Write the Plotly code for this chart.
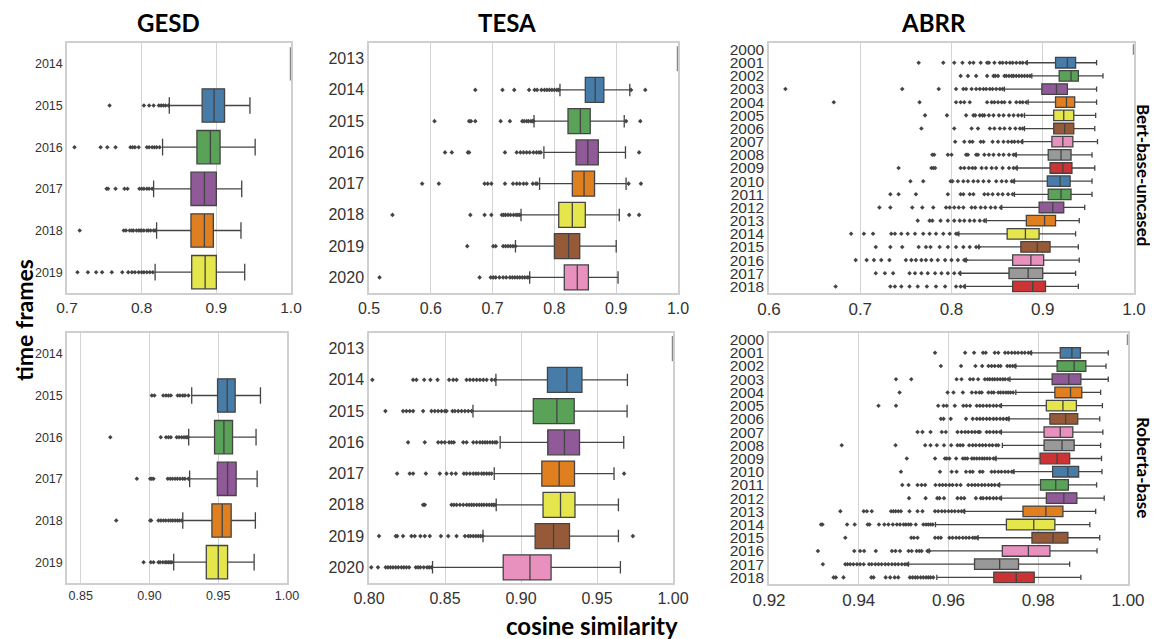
import plotly.graph_objects as go

# Seaborn Set1 palette (desaturated 0.75), cycled over time frames
PALETTE = ["#cb3335", "#477ca8", "#59a257", "#905998", "#df7f20",
           "#e5e54c", "#965a38", "#e890be", "#999999"]

# ---------------- GESD / Bert-base-uncased ----------------
gesd_bert_years = ["2014", "2015", "2016", "2017", "2018", "2019"]
gesd_bert_q1 = [1.0, 0.881, 0.874, 0.866, 0.866, 0.867]
gesd_bert_med = [1.0, 0.897, 0.892, 0.884, 0.884, 0.885]
gesd_bert_q3 = [1.0, 0.911, 0.905, 0.900, 0.896, 0.900]
gesd_bert_lo = [1.0, 0.837, 0.828, 0.816, 0.820, 0.818]
gesd_bert_hi = [1.0, 0.945, 0.952, 0.934, 0.933, 0.938]
gesd_bert_out = [
    [],
    [0.757, 0.803, 0.810, 0.816, 0.823, 0.826, 0.829, 0.832, 0.836],
    [0.710, 0.745, 0.754, 0.765, 0.785, 0.788, 0.791, 0.796, 0.807, 0.810, 0.814, 0.817, 0.820, 0.824],
    [0.753, 0.755, 0.765, 0.777, 0.781, 0.797, 0.800, 0.803, 0.807, 0.810, 0.814],
    [0.717, 0.776, 0.779, 0.784, 0.787, 0.789, 0.793, 0.796, 0.798, 0.800, 0.803, 0.807, 0.809, 0.812, 0.816, 0.818],
    [0.714, 0.728, 0.739, 0.747, 0.760, 0.774, 0.782, 0.787, 0.791, 0.796, 0.800, 0.803, 0.807, 0.811, 0.815],
]

# ---------------- TESA / Bert-base-uncased ----------------
tesa_bert_years = ["2013", "2014", "2015", "2016", "2017", "2018", "2019", "2020"]
tesa_bert_q1 = [1.0, 0.850, 0.822, 0.835, 0.829, 0.807, 0.800, 0.816]
tesa_bert_med = [1.0, 0.866, 0.842, 0.854, 0.848, 0.829, 0.823, 0.837]
tesa_bert_q3 = [1.0, 0.880, 0.858, 0.871, 0.865, 0.850, 0.841, 0.855]
tesa_bert_lo = [1.0, 0.809, 0.767, 0.783, 0.776, 0.746, 0.737, 0.760]
tesa_bert_hi = [1.0, 0.922, 0.913, 0.915, 0.916, 0.905, 0.900, 0.903]
tesa_bert_out = [
    [],
    [0.672, 0.716, 0.735, 0.759, 0.768, 0.772, 0.779, 0.784, 0.788, 0.792, 0.796, 0.800, 0.804, 0.807, 0.924, 0.947],
    [0.606, 0.662, 0.665, 0.672, 0.713, 0.728, 0.748, 0.751, 0.755, 0.758, 0.762, 0.765, 0.766, 0.916, 0.939],
    [0.623, 0.634, 0.660, 0.662, 0.720, 0.739, 0.745, 0.750, 0.755, 0.760, 0.766, 0.771, 0.775, 0.778, 0.937],
    [0.586, 0.613, 0.687, 0.692, 0.698, 0.720, 0.733, 0.739, 0.744, 0.750, 0.755, 0.765, 0.770, 0.772, 0.920, 0.940],
    [0.538, 0.664, 0.687, 0.698, 0.715, 0.718, 0.721, 0.725, 0.729, 0.734, 0.738, 0.741, 0.744, 0.921, 0.937],
    [0.659, 0.701, 0.705, 0.717, 0.721, 0.725, 0.729, 0.733, 0.737],
    [0.517, 0.679, 0.697, 0.701, 0.705, 0.711, 0.717, 0.722, 0.728, 0.732, 0.736, 0.740, 0.744, 0.748, 0.752, 0.756, 0.759],
]

# ---------------- ABRR / Bert-base-uncased ----------------
abrr_bert_years = [str(y) for y in range(2000, 2019)]
abrr_bert_q1 = [1.0, 0.914, 0.918, 0.899, 0.914, 0.912, 0.912, 0.910, 0.906, 0.908,
                0.905, 0.906, 0.896, 0.882, 0.861, 0.876, 0.867, 0.863, 0.867]
abrr_bert_med = [1.0, 0.927, 0.931, 0.915, 0.926, 0.923, 0.924, 0.922, 0.920, 0.922,
                 0.919, 0.920, 0.911, 0.902, 0.881, 0.894, 0.887, 0.884, 0.889]
abrr_bert_q3 = [1.0, 0.936, 0.939, 0.927, 0.935, 0.934, 0.934, 0.933, 0.931, 0.932,
                0.930, 0.931, 0.923, 0.914, 0.896, 0.908, 0.901, 0.900, 0.903]
abrr_bert_lo = [1.0, 0.883, 0.888, 0.858, 0.884, 0.880, 0.880, 0.878, 0.871, 0.872,
                0.869, 0.869, 0.855, 0.838, 0.808, 0.830, 0.816, 0.810, 0.815]
abrr_bert_hi = [1.0, 0.959, 0.966, 0.959, 0.959, 0.958, 0.957, 0.960, 0.954, 0.957,
                0.954, 0.954, 0.946, 0.940, 0.936, 0.939, 0.940, 0.936, 0.939]
abrr_bert_out = [
    [],
    [0.764, 0.791, 0.803, 0.812, 0.820, 0.824, 0.832, 0.839, 0.841, 0.847, 0.853, 0.856, 0.860, 0.864, 0.867, 0.871, 0.875, 0.878, 0.882],
    [0.810, 0.818, 0.827, 0.839, 0.846, 0.848, 0.851, 0.858, 0.860, 0.863, 0.866, 0.868, 0.871, 0.874, 0.877, 0.880, 0.883, 0.886],
    [0.618, 0.746, 0.786, 0.805, 0.813, 0.816, 0.822, 0.827, 0.831, 0.835, 0.838, 0.842, 0.845, 0.849, 0.853, 0.856],
    [0.671, 0.765, 0.805, 0.810, 0.814, 0.820, 0.839, 0.844, 0.847, 0.851, 0.855, 0.858, 0.864, 0.871, 0.875, 0.878, 0.882],
    [0.771, 0.795, 0.816, 0.824, 0.826, 0.831, 0.834, 0.836, 0.841, 0.846, 0.852, 0.857, 0.863, 0.868, 0.873, 0.877],
    [0.767, 0.803, 0.822, 0.829, 0.842, 0.847, 0.853, 0.858, 0.864, 0.870, 0.875, 0.878],
    [0.804, 0.814, 0.820, 0.823, 0.832, 0.835, 0.845, 0.851, 0.857, 0.862, 0.866, 0.869, 0.873, 0.877],
    [0.779, 0.781, 0.796, 0.800, 0.816, 0.818, 0.827, 0.829, 0.836, 0.841, 0.846, 0.852, 0.857, 0.863, 0.868, 0.870],
    [0.742, 0.778, 0.780, 0.782, 0.810, 0.814, 0.819, 0.823, 0.826, 0.833, 0.838, 0.844, 0.849, 0.856, 0.863, 0.868, 0.871],
    [0.755, 0.769, 0.799, 0.801, 0.807, 0.813, 0.818, 0.824, 0.829, 0.835, 0.841, 0.849, 0.855, 0.860, 0.866, 0.868],
    [0.733, 0.742, 0.761, 0.796, 0.810, 0.813, 0.820, 0.824, 0.836, 0.840, 0.845, 0.851, 0.856, 0.862, 0.867],
    [0.721, 0.733, 0.757, 0.768, 0.780, 0.794, 0.798, 0.803, 0.808, 0.813, 0.822, 0.826, 0.832, 0.837, 0.843, 0.848, 0.854],
    [0.763, 0.776, 0.779, 0.788, 0.796, 0.803, 0.809, 0.814, 0.820, 0.825, 0.831, 0.836],
    [0.690, 0.704, 0.714, 0.734, 0.738, 0.745, 0.752, 0.760, 0.769, 0.776, 0.783, 0.791, 0.798, 0.805, 0.807],
    [0.717, 0.733, 0.746, 0.764, 0.772, 0.777, 0.787, 0.796, 0.805, 0.813, 0.820, 0.827, 0.830],
    [0.695, 0.707, 0.715, 0.723, 0.732, 0.750, 0.756, 0.761, 0.767, 0.772, 0.778, 0.785, 0.793, 0.800, 0.807, 0.814, 0.816],
    [0.717, 0.727, 0.736, 0.754, 0.760, 0.767, 0.774, 0.782, 0.789, 0.796, 0.803, 0.809],
    [0.673, 0.733, 0.738, 0.745, 0.754, 0.763, 0.773, 0.783, 0.793, 0.805, 0.810, 0.814],
]

# ---------------- GESD / Roberta-base ----------------
gesd_rob_years = ["2014", "2015", "2016", "2017", "2018", "2019"]
gesd_rob_q1 = [None, 0.9495, 0.9473, 0.9493, 0.9454, 0.9413]
gesd_rob_med = [None, 0.9565, 0.9541, 0.9568, 0.9529, 0.9500]
gesd_rob_q3 = [None, 0.9623, 0.9604, 0.9630, 0.9594, 0.9568]
gesd_rob_lo = [None, 0.9307, 0.9285, 0.9292, 0.9242, 0.9176]
gesd_rob_hi = [None, 0.9807, 0.9775, 0.9783, 0.9770, 0.9761]
gesd_rob_out = [
    [],
    [0.9017, 0.9036, 0.9100, 0.9120, 0.9138, 0.9155, 0.9205, 0.9222, 0.9242, 0.9258, 0.9283],
    [0.8715, 0.9082, 0.9120, 0.9138, 0.9155, 0.9198, 0.9215, 0.9234, 0.9251, 0.9266, 0.9278],
    [0.8908, 0.9005, 0.9017, 0.9029, 0.9133, 0.9150, 0.9167, 0.9186, 0.9203, 0.9222, 0.9242, 0.9258, 0.9283],
    [0.8758, 0.9005, 0.9012, 0.9065, 0.9082, 0.9101, 0.9118, 0.9138, 0.9155, 0.9169, 0.9186, 0.9203, 0.9217, 0.9234],
    [0.8957, 0.9010, 0.9029, 0.9065, 0.9077, 0.9097, 0.9114, 0.9126, 0.9138, 0.9150, 0.9162],
]

# ---------------- TESA / Roberta-base ----------------
tesa_rob_years = ["2013", "2014", "2015", "2016", "2017", "2018", "2019", "2020"]
tesa_rob_q1 = [1.0, 0.9174, 0.9081, 0.9176, 0.9137, 0.9145, 0.9093, 0.8883]
tesa_rob_med = [1.0, 0.9302, 0.9236, 0.9286, 0.9251, 0.9260, 0.9214, 0.9059]
tesa_rob_q3 = [1.0, 0.9401, 0.9350, 0.9385, 0.9352, 0.9355, 0.9319, 0.9198]
tesa_rob_lo = [1.0, 0.8835, 0.8684, 0.8863, 0.8824, 0.8837, 0.8750, 0.8418]
tesa_rob_hi = [1.0, 0.9700, 0.9698, 0.9676, 0.9612, 0.9641, 0.9641, 0.9654]
tesa_rob_out = [
    [],
    [0.8022, 0.8290, 0.8312, 0.8363, 0.8404, 0.8451, 0.8527, 0.8554, 0.8576, 0.8642, 0.8664, 0.8686, 0.8708, 0.8730, 0.8752, 0.8774, 0.8807, 0.8829],
    [0.8108, 0.8224, 0.8246, 0.8268, 0.8290, 0.8356, 0.8411, 0.8433, 0.8455, 0.8477, 0.8499, 0.8510, 0.8549, 0.8565, 0.8587, 0.8609, 0.8631, 0.8653, 0.8675],
    [0.8257, 0.8367, 0.8455, 0.8477, 0.8499, 0.8527, 0.8543, 0.8558, 0.8620, 0.8642, 0.8686, 0.8708, 0.8730, 0.8747, 0.8763, 0.8778, 0.8796, 0.8813, 0.8829, 0.8840],
    [0.8185, 0.8268, 0.8290, 0.8374, 0.8466, 0.8510, 0.8543, 0.8571, 0.8624, 0.8642, 0.8664, 0.8686, 0.8703, 0.8719, 0.8741, 0.8756, 0.8774, 0.8791, 0.8807, 0.9678],
    [0.8356, 0.8367, 0.8543, 0.8558, 0.8576, 0.8598, 0.8620, 0.8642, 0.8659, 0.8675, 0.8690, 0.8708, 0.8725, 0.8741, 0.8756, 0.8774, 0.8791, 0.8807, 0.8818, 0.8829],
    [0.8066, 0.8176, 0.8185, 0.8224, 0.8279, 0.8301, 0.8338, 0.8367, 0.8400, 0.8473, 0.8521, 0.8576, 0.8631, 0.8653, 0.8668, 0.8686, 0.8703, 0.8719, 0.8734, 0.8747, 0.9736],
    [0.8015, 0.8059, 0.8110, 0.8125, 0.8141, 0.8158, 0.8176, 0.8193, 0.8213, 0.8229, 0.8246, 0.8264, 0.8308, 0.8323, 0.8338, 0.8360, 0.8382, 0.8396, 0.8411],
]

# ---------------- ABRR / Roberta-base ----------------
abrr_rob_years = [str(y) for y in range(2000, 2019)]
abrr_rob_q1 = [1.0, 0.9849, 0.9842, 0.9831, 0.9837, 0.9818, 0.9826, 0.9813, 0.9813, 0.9804,
               0.9832, 0.9805, 0.9818, 0.9766, 0.9729, 0.9786, 0.9720, 0.9658, 0.9701]
abrr_rob_med = [1.0, 0.9875, 0.9880, 0.9868, 0.9872, 0.9855, 0.9861, 0.9849, 0.9853, 0.9842,
                0.9866, 0.9839, 0.9857, 0.9817, 0.9790, 0.9833, 0.9778, 0.9714, 0.9751]
abrr_rob_q3 = [1.0, 0.9894, 0.9906, 0.9895, 0.9897, 0.9885, 0.9888, 0.9877, 0.9880, 0.9870,
               0.9890, 0.9867, 0.9886, 0.9855, 0.9837, 0.9866, 0.9826, 0.9756, 0.9791]
abrr_rob_lo = [1.0, 0.9785, 0.9750, 0.9737, 0.9750, 0.9718, 0.9735, 0.9718, 0.9720, 0.9706,
               0.9746, 0.9714, 0.9718, 0.9636, 0.9571, 0.9666, 0.9557, 0.9511, 0.9574]
abrr_rob_hi = [1.0, 0.9956, 0.9951, 0.9956, 0.9939, 0.9943, 0.9937, 0.9944, 0.9939, 0.9941,
               0.9942, 0.9930, 0.9947, 0.9928, 0.9915, 0.9937, 0.9931, 0.9870, 0.9895]
abrr_rob_out = [
    [],
    [0.9570, 0.9637, 0.9657, 0.9677, 0.9683, 0.9703, 0.9711, 0.9726, 0.9733, 0.9741, 0.9748, 0.9755, 0.9763, 0.9770, 0.9778, 0.9783],
    [0.9583, 0.9628, 0.9660, 0.9675, 0.9689, 0.9696, 0.9703, 0.9711, 0.9716, 0.9731, 0.9737, 0.9743, 0.9748],
    [0.9483, 0.9517, 0.9618, 0.9629, 0.9648, 0.9655, 0.9666, 0.9681, 0.9687, 0.9692, 0.9698, 0.9703, 0.9709, 0.9715, 0.9721, 0.9726, 0.9733],
    [0.9491, 0.9598, 0.9611, 0.9632, 0.9652, 0.9661, 0.9669, 0.9674, 0.9689, 0.9696, 0.9701, 0.9711, 0.9716, 0.9722, 0.9728, 0.9733, 0.9738, 0.9744],
    [0.9444, 0.9483, 0.9577, 0.9589, 0.9596, 0.9614, 0.9633, 0.9640, 0.9648, 0.9663, 0.9670, 0.9677, 0.9685, 0.9692, 0.9700, 0.9707, 0.9715],
    [0.9583, 0.9589, 0.9605, 0.9639, 0.9654, 0.9663, 0.9670, 0.9677, 0.9685, 0.9692, 0.9700, 0.9707, 0.9715, 0.9722, 0.9729, 0.9733],
    [0.9531, 0.9542, 0.9560, 0.9585, 0.9594, 0.9620, 0.9629, 0.9637, 0.9644, 0.9652, 0.9659, 0.9666, 0.9670, 0.9685, 0.9692, 0.9700, 0.9707, 0.9715],
    [0.9362, 0.9482, 0.9548, 0.9560, 0.9574, 0.9590, 0.9606, 0.9620, 0.9626, 0.9632, 0.9646, 0.9654, 0.9661, 0.9669, 0.9676, 0.9683, 0.9691, 0.9698, 0.9706, 0.9711],
    [0.9507, 0.9570, 0.9592, 0.9596, 0.9602, 0.9617, 0.9632, 0.9637, 0.9642, 0.9652, 0.9657, 0.9663, 0.9669, 0.9675, 0.9680, 0.9686, 0.9692, 0.9700, 0.9704],
    [0.9494, 0.9581, 0.9607, 0.9618, 0.9639, 0.9648, 0.9654, 0.9670, 0.9676, 0.9696, 0.9703, 0.9711, 0.9718, 0.9726, 0.9733, 0.9741, 0.9744],
    [0.9497, 0.9511, 0.9531, 0.9540, 0.9548, 0.9571, 0.9580, 0.9587, 0.9594, 0.9602, 0.9609, 0.9618, 0.9627, 0.9644, 0.9652, 0.9659, 0.9666, 0.9674, 0.9681, 0.9689, 0.9696, 0.9703, 0.9711],
    [0.9512, 0.9549, 0.9575, 0.9580, 0.9590, 0.9620, 0.9628, 0.9635, 0.9661, 0.9672, 0.9677, 0.9685, 0.9692, 0.9700, 0.9707, 0.9715],
    [0.9359, 0.9411, 0.9418, 0.9429, 0.9472, 0.9477, 0.9482, 0.9488, 0.9494, 0.9513, 0.9531, 0.9542, 0.9570, 0.9577, 0.9585, 0.9592, 0.9600, 0.9607, 0.9614, 0.9622, 0.9629, 0.9634],
    [0.9316, 0.9319, 0.9374, 0.9391, 0.9420, 0.9424, 0.9445, 0.9457, 0.9466, 0.9476, 0.9485, 0.9492, 0.9500, 0.9505, 0.9511, 0.9516, 0.9527, 0.9544, 0.9550, 0.9555, 0.9560, 0.9565],
    [0.9370, 0.9517, 0.9523, 0.9531, 0.9570, 0.9577, 0.9583, 0.9602, 0.9609, 0.9617, 0.9624, 0.9632, 0.9639, 0.9646, 0.9654, 0.9659, 0.9664],
    [0.9309, 0.9390, 0.9403, 0.9412, 0.9438, 0.9474, 0.9482, 0.9492, 0.9511, 0.9518, 0.9529, 0.9535, 0.9540, 0.9553, 0.9557],
    [0.9320, 0.9370, 0.9375, 0.9381, 0.9388, 0.9396, 0.9403, 0.9411, 0.9423, 0.9429, 0.9437, 0.9444, 0.9451, 0.9459, 0.9466, 0.9474, 0.9481, 0.9488, 0.9496, 0.9503, 0.9508],
    [0.9344, 0.9349, 0.9366, 0.9428, 0.9433, 0.9460, 0.9470, 0.9480, 0.9488, 0.9514, 0.9520, 0.9526, 0.9531, 0.9538, 0.9544, 0.9550, 0.9555, 0.9560, 0.9566],
]

# Page body has an 8px default margin: the figure is sized to the remaining
# viewport and all screen positions below are converted with that offset.
OFF = 8
W, H = 1158 - OFF, 639 - OFF
LINE = "#444444"
TICK_FONT = "Liberation Sans"


def px(x):
    return (x - OFF) / W


def py(y):
    return 1 - (y - OFF) / H


panels = [
    dict(d=(gesd_bert_years, gesd_bert_q1, gesd_bert_med, gesd_bert_q3, gesd_bert_lo, gesd_bert_hi, gesd_bert_out),
         ax="", xr=[0.7, 1.0], dt=0.1, tf=".1f", box=(67, 291, 43, 293), ys=12.5, xs=15.5),
    dict(d=(tesa_bert_years, tesa_bert_q1, tesa_bert_med, tesa_bert_q3, tesa_bert_lo, tesa_bert_hi, tesa_bert_out),
         ax="2", xr=[0.5, 1.0], dt=0.1, tf=".1f", box=(369, 678, 43, 293), ys=16, xs=16),
    dict(d=(abrr_bert_years, abrr_bert_q1, abrr_bert_med, abrr_bert_q3, abrr_bert_lo, abrr_bert_hi, abrr_bert_out),
         ax="3", xr=[0.6, 1.0], dt=0.1, tf=".1f", box=(769, 1134, 43, 293), ys=15.5, xs=17),
    dict(d=(gesd_rob_years, gesd_rob_q1, gesd_rob_med, gesd_rob_q3, gesd_rob_lo, gesd_rob_hi, gesd_rob_out),
         ax="4", xr=[0.84, 1.0], dt=0.05, tf=".2f", box=(67, 287, 333, 583), ys=12.5, xs=12.5),
    dict(d=(tesa_rob_years, tesa_rob_q1, tesa_rob_med, tesa_rob_q3, tesa_rob_lo, tesa_rob_hi, tesa_rob_out),
         ax="5", xr=[0.8, 1.0], dt=0.05, tf=".2f", box=(369, 673, 333, 583), ys=16, xs=16),
    dict(d=(abrr_rob_years, abrr_rob_q1, abrr_rob_med, abrr_rob_q3, abrr_rob_lo, abrr_rob_hi, abrr_rob_out),
         ax="6", xr=[0.92, 1.0], dt=0.02, tf=".2f", box=(769, 1128, 333, 584), ys=15.5, xs=17),
]

fig = go.Figure()
layout = {}

for p in panels:
    years, q1, med, q3, lo, hi, out = p["d"]
    xa, ya = "x" + p["ax"], "y" + p["ax"]
    for i, yr in enumerate(years):
        if q1[i] is None:
            continue
        degenerate = q1[i] == q3[i]
        fig.add_trace(go.Box(
            y=[yr], q1=[q1[i]], median=[med[i]], q3=[q3[i]],
            lowerfence=[lo[i]], upperfence=[hi[i]],
            orientation="h", width=0.8, whiskerwidth=0.5,
            fillcolor=PALETTE[i % len(PALETTE)],
            line=dict(color="#888888" if degenerate else LINE, width=2.5 if degenerate else 1.3),
            boxpoints=False, showlegend=False, hoverinfo="skip",
            xaxis=xa, yaxis=ya,
        ))
        if out[i]:
            fig.add_trace(go.Scatter(
                x=out[i], y=[yr] * len(out[i]), mode="markers",
                marker=dict(symbol="diamond", size=3.5, color=LINE),
                showlegend=False, hoverinfo="skip", xaxis=xa, yaxis=ya,
            ))
    l, r, t, b = p["box"]
    n = len(years)
    layout["xaxis" + p["ax"]] = dict(
        domain=[px(l), px(r)], anchor=ya, range=p["xr"], dtick=p["dt"], tick0=0,
        tickformat=p["tf"], showgrid=True, gridcolor="#d4d4d4", gridwidth=1.2,
        zeroline=False, showline=True, mirror=True, linecolor="#cfcfcf", linewidth=1.5,
        ticks="", automargin=False,
        tickfont=dict(family=TICK_FONT, size=p["xs"], color="#333333"),
    )
    layout["yaxis" + p["ax"]] = dict(
        domain=[py(b), py(t)], anchor=xa, type="category",
        categoryorder="array", categoryarray=years, range=[n - 0.5, -0.5],
        tickmode="array", tickvals=years, ticktext=years,
        showgrid=False, zeroline=False, showline=True, mirror=True,
        linecolor="#cfcfcf", linewidth=1.5, ticks="", automargin=False,
        tickfont=dict(family=TICK_FONT, size=p["ys"], color="#333333"),
    )

title_font = dict(family="Lato", size=24, color="black")
side_font = dict(family="Lato", size=17, color="black")
annotations = [
    dict(text="<b>GESD</b>", x=px(168), y=py(23), font=title_font),
    dict(text="<b>TESA</b>", x=px(507), y=py(23), font=title_font),
    dict(text="<b>ABRR</b>", x=px(933), y=py(23), font=title_font),
    dict(text="<b>time frames</b>", x=px(24), y=py(320), textangle=-90,
         font=dict(family="Lato", size=23, color="black")),
    dict(text="<b>cosine similarity</b>", x=px(592), y=py(625), font=title_font),
    dict(text="<b>Bert-base-uncased</b>", x=px(1144), y=py(175), textangle=90, font=side_font),
    dict(text="<b>Roberta-base</b>", x=px(1144), y=py(467), textangle=90, font=side_font),
]
for a in annotations:
    a.update(xref="paper", yref="paper", showarrow=False, xanchor="center", yanchor="middle")

fig.update_layout(
    template="none",
    width=W, height=H, margin=dict(l=0, r=0, t=0, b=0, pad=0, autoexpand=False),
    paper_bgcolor="white", plot_bgcolor="white",
    boxmode="overlay", annotations=annotations, **layout,
)

fig.write_html("out.html")
